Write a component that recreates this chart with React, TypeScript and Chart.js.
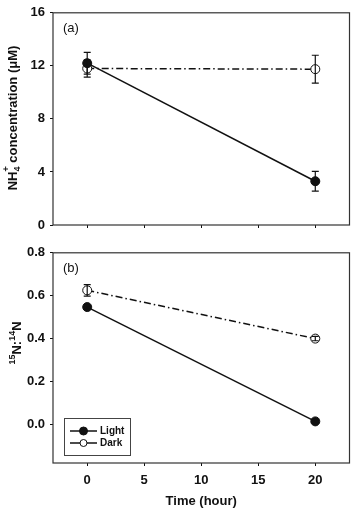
import React, { useEffect, useRef } from "react";
import { Chart, registerables } from "chart.js";

Chart.register(...registerables);

// Sampling times (hours) and axis ticks
const HOURS = [0, 20];
const X_TICKS = [0, 5, 10, 15, 20];

// Panel (a): NH4+ concentration (µM)
const NH4_TICKS = [0, 4, 8, 12, 16];
const NH4_LIGHT = [12.2, 3.3];
const NH4_LIGHT_ERR = [0.82, 0.75];
const NH4_DARK = [11.8, 11.75];
const NH4_DARK_ERR = [0.65, 1.05];

// Panel (b): 15N:14N ratio
const RATIO_TICKS = [0, 0.2, 0.4, 0.6, 0.8];
const RATIO_LIGHT = [0.547, 0.014];
const RATIO_LIGHT_ERR = [0.008, 0.008];
const RATIO_DARK = [0.625, 0.4];
const RATIO_DARK_ERR = [0.027, 0.01];

const SERIES_NAMES = ["Light", "Dark"];

const FONT = "'Liberation Sans', Arial, Helvetica, sans-serif";
const INK = "#111";
const FRAME = "#333";
const DARK_DASH = [7, 3, 1.5, 3];

type TitlePart = { text: string; size: number; dy?: number; stack?: boolean };

type PanelSpec = {
  height: number;
  padTop: number;
  xAxisHeight: number;
  yMin: number;
  yMax: number;
  yTicks: number[];
  yFormat: (v: number) => string;
  light: number[];
  lightErr: number[];
  dark: number[];
  darkErr: number[];
  showXLabels: boolean;
  panelLabel: string;
  titleParts: TitlePart[];
  titleBaselineX: number;
  titleCenterY: number;
  legend: boolean;
};

// Rotated axis title with sub/superscripts; parts flagged `stack` share the
// horizontal slot of the preceding part (e.g. subscript 4 under superscript +).
function drawRotatedTitle(ctx: CanvasRenderingContext2D, parts: TitlePart[], bx: number, cy: number) {
  const widths: number[] = [];
  let total = 0;
  let prevWidth = 0;
  parts.forEach((p) => {
    ctx.font = `bold ${p.size}px ${FONT}`;
    const w = ctx.measureText(p.text).width;
    widths.push(w);
    total += p.stack ? Math.max(0, w - prevWidth) : w;
    prevWidth = w;
  });
  ctx.save();
  ctx.translate(bx, cy);
  ctx.rotate(-Math.PI / 2);
  ctx.fillStyle = INK;
  ctx.textAlign = "left";
  ctx.textBaseline = "alphabetic";
  let x = -total / 2;
  let lastX = x;
  let lastW = 0;
  parts.forEach((p, i) => {
    ctx.font = `bold ${p.size}px ${FONT}`;
    if (p.stack) {
      ctx.fillText(p.text, lastX, p.dy || 0);
      lastW = Math.max(lastW, widths[i]);
      x = lastX + lastW;
    } else {
      ctx.fillText(p.text, x, p.dy || 0);
      lastX = x;
      lastW = widths[i];
      x += widths[i];
    }
  });
  ctx.restore();
}

function buildConfig(spec: PanelSpec): any {
  const toPoints = (vals: number[]) => HOURS.map((h, i) => ({ x: h, y: vals[i] }));
  const errors = [spec.lightErr, spec.darkErr];
  const values = [spec.light, spec.dark];

  const framePlugin = {
    id: "frame",
    beforeDatasetsDraw(chart: any) {
      const { ctx, chartArea: a } = chart;
      ctx.save();
      ctx.strokeStyle = FRAME;
      ctx.lineWidth = 1.2;
      ctx.strokeRect(a.left, a.top, a.right - a.left, a.bottom - a.top);
      ctx.restore();
    },
  };

  const errorBarPlugin = {
    id: "errorBars",
    afterDatasetsDraw(chart: any) {
      const { ctx } = chart;
      const yScale = chart.scales.y;
      ctx.save();
      ctx.strokeStyle = INK;
      ctx.lineWidth = 1.2;
      ctx.setLineDash([]);
      for (let d = 0; d < values.length; d++) {
        const meta = chart.getDatasetMeta(d);
        values[d].forEach((v, j) => {
          const e = errors[d][j];
          const px = meta.data[j].x;
          const yTop = yScale.getPixelForValue(v + e);
          const yBot = yScale.getPixelForValue(v - e);
          ctx.beginPath();
          ctx.moveTo(px, yTop);
          ctx.lineTo(px, yBot);
          ctx.moveTo(px - 3.5, yTop);
          ctx.lineTo(px + 3.5, yTop);
          ctx.moveTo(px - 3.5, yBot);
          ctx.lineTo(px + 3.5, yBot);
          ctx.stroke();
        });
      }
      ctx.restore();
    },
  };

  const decorPlugin = {
    id: "decor",
    afterDraw(chart: any) {
      const { ctx, chartArea: a } = chart;
      ctx.save();
      ctx.fillStyle = INK;
      ctx.font = `13px ${FONT}`;
      ctx.textAlign = "left";
      ctx.textBaseline = "middle";
      ctx.fillText(spec.panelLabel, a.left + 10, a.top + 16);
      ctx.restore();

      drawRotatedTitle(ctx, spec.titleParts, spec.titleBaselineX, spec.titleCenterY);

      if (spec.legend) {
        const bx = a.left + 11;
        const by = a.bottom - 45;
        const bw = 66;
        const bh = 37;
        ctx.save();
        ctx.fillStyle = "#fff";
        ctx.fillRect(bx, by, bw, bh);
        ctx.strokeStyle = "#444";
        ctx.lineWidth = 1;
        ctx.strokeRect(bx + 0.5, by + 0.5, bw, bh);
        chart.data.datasets.forEach((ds: any, i: number) => {
          const ry = by + 13 + i * 12;
          ctx.strokeStyle = INK;
          ctx.lineWidth = 1.5;
          ctx.setLineDash([]);
          ctx.beginPath();
          ctx.moveTo(bx + 6, ry);
          ctx.lineTo(bx + 33, ry);
          ctx.stroke();
          ctx.beginPath();
          ctx.arc(bx + 19.5, ry, i === 0 ? 4 : 3.5, 0, Math.PI * 2);
          ctx.fillStyle = ds.pointBackgroundColor;
          ctx.fill();
          ctx.lineWidth = 1;
          ctx.strokeStyle = INK;
          ctx.stroke();
          ctx.fillStyle = INK;
          ctx.font = `bold 10px ${FONT}`;
          ctx.textAlign = "left";
          ctx.textBaseline = "middle";
          ctx.fillText(ds.label, bx + 36, ry);
        });
        ctx.restore();
      }
    },
  };

  return {
    type: "scatter",
    data: {
      datasets: [
        {
          label: SERIES_NAMES[0],
          data: toPoints(spec.light),
          showLine: true,
          borderColor: INK,
          borderWidth: 1.5,
          pointRadius: 4.5,
          pointBackgroundColor: INK,
          pointBorderColor: INK,
          pointBorderWidth: 1,
        },
        {
          label: SERIES_NAMES[1],
          data: toPoints(spec.dark),
          showLine: true,
          borderColor: INK,
          borderWidth: 1.5,
          borderDash: DARK_DASH,
          pointRadius: 4.5,
          pointBackgroundColor: "#fff",
          pointBorderColor: INK,
          pointBorderWidth: 1,
        },
      ],
    },
    options: {
      responsive: false,
      animation: false,
      events: [],
      layout: { padding: { top: spec.padTop, right: 3, left: 0, bottom: 0 } },
      plugins: {
        legend: { display: false },
        tooltip: { enabled: false },
        title: { display: false },
      },
      scales: {
        x: {
          type: "linear",
          min: -3,
          max: 23,
          afterBuildTicks: (s: any) => {
            s.ticks = X_TICKS.map((v) => ({ value: v }));
          },
          afterFit: (s: any) => {
            s.height = spec.xAxisHeight;
          },
          grid: { drawOnChartArea: false, drawTicks: true, tickLength: 3, color: INK },
          border: { display: false },
          ticks: {
            color: spec.showXLabels ? INK : "rgba(0,0,0,0)",
            font: { family: FONT, size: 13, weight: "bold" },
            padding: 7,
            maxRotation: 0,
          },
          title: {
            display: spec.showXLabels,
            text: "Time (hour)",
            color: INK,
            font: { family: FONT, size: 13, weight: "bold" },
            padding: { top: 0, bottom: 0 },
          },
        },
        y: {
          type: "linear",
          min: spec.yMin,
          max: spec.yMax,
          afterBuildTicks: (s: any) => {
            s.ticks = spec.yTicks.map((v) => ({ value: v }));
          },
          afterFit: (s: any) => {
            s.width = 53;
          },
          grid: { drawOnChartArea: false, drawTicks: true, tickLength: 3, color: INK },
          border: { display: false },
          ticks: {
            color: INK,
            font: { family: FONT, size: 13, weight: "bold" },
            padding: 5,
            callback: (v: any) => spec.yFormat(Number(v)),
          },
        },
      },
    },
    plugins: [framePlugin, errorBarPlugin, decorPlugin],
  };
}

const TOP_PANEL: PanelSpec = {
  height: 240,
  padTop: 10,
  xAxisHeight: 15,
  yMin: 0,
  yMax: 16,
  yTicks: NH4_TICKS,
  yFormat: (v) => String(v),
  light: NH4_LIGHT,
  lightErr: NH4_LIGHT_ERR,
  dark: NH4_DARK,
  darkErr: NH4_DARK_ERR,
  showXLabels: false,
  panelLabel: "(a)",
  titleParts: [
    { text: "NH", size: 13 },
    { text: "4", size: 9, dy: 3 },
    { text: "+", size: 9, dy: -8, stack: true },
    { text: " concentration (\u03bcM)", size: 13 },
  ],
  titleBaselineX: 17,
  titleCenterY: 118,
  legend: false,
};

const BOTTOM_PANEL: PanelSpec = {
  height: 269,
  padTop: 8,
  xAxisHeight: 46,
  yMin: -0.18,
  yMax: 0.8,
  yTicks: RATIO_TICKS,
  yFormat: (v) => v.toFixed(1),
  light: RATIO_LIGHT,
  lightErr: RATIO_LIGHT_ERR,
  dark: RATIO_DARK,
  darkErr: RATIO_DARK_ERR,
  showXLabels: true,
  panelLabel: "(b)",
  titleParts: [
    { text: "15", size: 9, dy: -6 },
    { text: "N:", size: 13 },
    { text: "14", size: 9, dy: -6 },
    { text: "N", size: 13 },
  ],
  titleBaselineX: 21,
  titleCenterY: 103,
  legend: true,
};

function Panel({ spec, top }: { spec: PanelSpec; top: number }) {
  const ref = useRef<HTMLCanvasElement>(null);
  useEffect(() => {
    const chart = new Chart(ref.current as HTMLCanvasElement, buildConfig(spec));
    return () => chart.destroy();
  }, [spec]);
  return (
    <div style={{ position: "absolute", left: 0, top, width: 355, height: spec.height }}>
      <canvas ref={ref} width={355} height={spec.height} style={{ display: "block" }} />
    </div>
  );
}

export default function App() {
  return (
    <div style={{ position: "absolute", left: 0, top: 0, width: 355, height: 509, background: "#fff" }}>
      <Panel spec={TOP_PANEL} top={0} />
      <Panel spec={BOTTOM_PANEL} top={240} />
    </div>
  );
}
